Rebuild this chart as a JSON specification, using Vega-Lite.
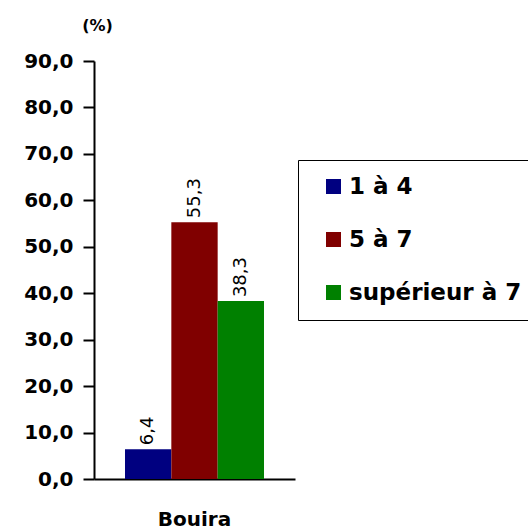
{
  "$schema": "https://vega.github.io/schema/vega-lite/v6.json",
  "autosize": {"type": "none"},
  "padding": {"left": 94, "top": 61, "right": 233, "bottom": 52},
  "width": 201,
  "height": 418,
  "config": {
    "view": {"stroke": null},
    "locale": {"number": {"decimal": ",", "thousands": " ", "grouping": [3], "currency": ["", ""]}},
    "font": "DejaVu Sans"
  },
  "data": {
    "values": [
      {"region": "Bouira", "classe": "1 à 4", "value": 6.4},
      {"region": "Bouira", "classe": "5 à 7", "value": 55.3},
      {"region": "Bouira", "classe": "supérieur à 7", "value": 38.3}
    ]
  },
  "encoding": {
    "x": {
      "field": "region", "type": "nominal",
      "scale": {"paddingInner": 0, "paddingOuter": 0.223},
      "axis": {
        "title": null, "labelAngle": 0, "ticks": false, "labelPadding": 30,
        "labelFont": "DejaVu Sans", "labelFontWeight": "bold", "labelFontSize": 20, "labelColor": "#000",
        "domainColor": "#000", "domainWidth": 2
      }
    },
    "xOffset": {"field": "classe", "type": "nominal", "sort": ["1 à 4", "5 à 7", "supérieur à 7"], "scale": {"paddingInner": 0, "paddingOuter": 0}},
    "y": {
      "field": "value", "type": "quantitative",
      "scale": {"domain": [0, 90], "nice": false, "zero": true},
      "axis": {
        "values": [0, 10, 20, 30, 40, 50, 60, 70, 80, 90],
        "format": ".1f", "grid": false,
        "title": "(%)", "titleAngle": 0, "titleX": 3, "titleY": -36, "titleAlign": "center", "titleBaseline": "middle",
        "titleFont": "DejaVu Sans", "titleFontSize": 16, "titleFontWeight": "bold", "titleColor": "#000",
        "labelFont": "DejaVu Sans", "labelFontWeight": "bold", "labelFontSize": 20, "labelColor": "#000",
        "labelPadding": 10, "tickSize": 11, "tickWidth": 2, "tickColor": "#000",
        "domainColor": "#000", "domainWidth": 2
      }
    }
  },
  "layer": [
    {
      "mark": {"type": "bar"},
      "encoding": {
        "color": {
          "field": "classe", "type": "nominal",
          "scale": {"domain": ["1 à 4", "5 à 7", "supérieur à 7"], "range": ["#000080", "#800000", "#008000"]},
          "legend": {
            "title": null, "orient": "none", "legendX": 204, "legendY": 99,
            "strokeColor": "#000", "padding": 15,
            "symbolType": "square", "symbolSize": 225, "symbolOffset": 9, "symbolStrokeWidth": 0,
            "labelFont": "DejaVu Sans", "labelFontWeight": "bold", "labelFontSize": 23, "labelColor": "#000",
            "labelOffset": 4, "rowPadding": 29, "labelLimit": 400
          }
        }
      }
    },
    {
      "mark": {"type": "text", "angle": 270, "align": "left", "baseline": "middle", "dx": 4, "font": "DejaVu Sans", "fontSize": 18, "color": "#000"},
      "encoding": {
        "text": {"field": "value", "type": "quantitative", "format": ".1f"}
      }
    }
  ]
}
